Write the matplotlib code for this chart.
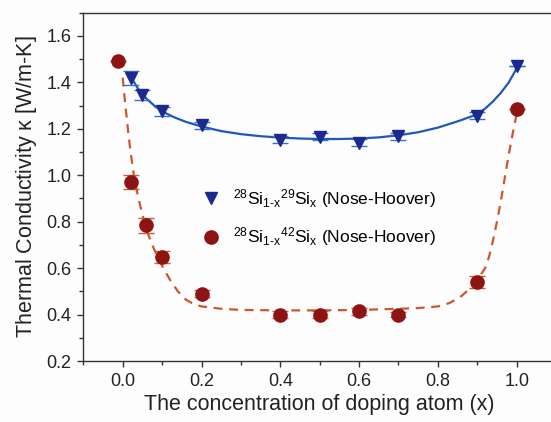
import matplotlib
matplotlib.use("Agg")
import matplotlib.pyplot as plt
from matplotlib.lines import Line2D

plt.rcParams['font.family'] = ['Liberation Sans', 'DejaVu Sans']
plt.rcParams['mathtext.fontset'] = 'custom'
plt.rcParams['mathtext.rm'] = 'Liberation Sans'
plt.rcParams['mathtext.it'] = 'Liberation Sans'

# 28Si(1-x) 29Si(x) simulations
x_si29 = [0.02, 0.05, 0.10, 0.20, 0.40, 0.50, 0.60, 0.70, 0.90, 1.00]
k_si29 = [1.42, 1.345, 1.275, 1.215, 1.153, 1.165, 1.14, 1.168, 1.257, 1.47]
err_si29 = [0.03, 0.02, 0.02, 0.015, 0.015, 0.015, 0.015, 0.015, 0.015, 0.0]

# 28Si(1-x) 42Si(x) simulations
x_si42 = [-0.012, 0.02, 0.06, 0.10, 0.20, 0.40, 0.50, 0.60, 0.70, 0.90, 1.00]
k_si42 = [1.49, 0.971, 0.784, 0.648, 0.49, 0.40, 0.40, 0.415, 0.40, 0.54, 1.284]
err_si42 = [0.0, 0.03, 0.032, 0.025, 0.015, 0.015, 0.015, 0.015, 0.012, 0.025, 0.0]

# fitted trend lines
fit29_x = [0.02, 0.04, 0.06, 0.08, 0.10, 0.13, 0.16, 0.20, 0.25, 0.30, 0.35, 0.40, 0.45,
           0.50, 0.55, 0.60, 0.65, 0.70, 0.75, 0.80, 0.85, 0.88, 0.90, 0.92, 0.94, 0.96,
           0.98, 0.99, 1.00]
fit29_y = [1.425, 1.37, 1.33, 1.30, 1.275, 1.25, 1.23, 1.21, 1.19, 1.177, 1.168, 1.162, 1.158,
           1.156, 1.156, 1.158, 1.163, 1.172, 1.185, 1.205, 1.232, 1.25, 1.262, 1.287, 1.318,
           1.355, 1.40, 1.43, 1.46]
fit42_x = [0.0, 0.005, 0.01, 0.015, 0.02, 0.025, 0.03, 0.04, 0.05, 0.06, 0.07, 0.08, 0.10,
           0.12, 0.14, 0.16, 0.18, 0.20, 0.25, 0.30, 0.40, 0.50, 0.60, 0.70, 0.75, 0.80,
           0.83, 0.86, 0.88, 0.90, 0.92, 0.93, 0.94, 0.95, 0.96, 0.97, 0.98, 0.99, 1.00]
fit42_y = [1.42, 1.33, 1.25, 1.17, 1.10, 1.04, 0.98, 0.90, 0.83, 0.77, 0.72, 0.68, 0.61,
           0.55, 0.50, 0.465, 0.445, 0.435, 0.425, 0.42, 0.418, 0.418, 0.42, 0.425, 0.428, 0.435,
           0.45, 0.48, 0.51, 0.55, 0.60, 0.65, 0.72, 0.80, 0.89, 0.99, 1.09, 1.18, 1.265]

labels = [r'$^{28}$Si$_{1\text{-}x}$$^{29}$Si$_{x}$ (Nose-Hoover)',
          r'$^{28}$Si$_{1\text{-}x}$$^{42}$Si$_{x}$ (Nose-Hoover)']

xticks = [0.0, 0.2, 0.4, 0.6, 0.8, 1.0]
yticks = [0.2, 0.4, 0.6, 0.8, 1.0, 1.2, 1.4, 1.6]

blue_mk, blue_ln, blue_err = '#1b2a8f', '#2256b8', '#3a6fd0'
red_mk, red_ln, red_err = '#8e1414', '#cf5530', '#c0603c'

fig = plt.figure(figsize=(5.51, 4.22), dpi=100)
fig.patch.set_facecolor('#fdfdfd')
ax = fig.add_axes([0.1512, 0.1445, 0.858, 0.8255])
ax.set_facecolor('#fdfdfd')

ax.plot(fit29_x, fit29_y, '-', color=blue_ln, lw=1.6, zorder=2)
ax.plot(fit42_x, fit42_y, '--', color=red_ln, lw=1.6, dashes=(4, 3), zorder=2)

ax.errorbar(x_si29, k_si29, yerr=err_si29, fmt='v', color=blue_mk, ms=9,
            ecolor=blue_err, elinewidth=1.0, capsize=6, capthick=1.0, zorder=3)
ax.errorbar(x_si42, k_si42, yerr=err_si42, fmt='o', color=red_mk, ms=9.5,
            ecolor=red_err, elinewidth=1.0, capsize=6, capthick=1.0, zorder=3)

ax.set_xlim(-0.1, 1.1)
ax.set_ylim(0.2, 1.7)
ax.set_xticks(xticks)
ax.set_xticklabels([f'{v:.1f}' for v in xticks])
ax.set_yticks(yticks)
ax.set_yticklabels([f'{v:.1f}' for v in yticks])
ax.set_xticks([-0.1, 0.1, 0.3, 0.5, 0.7, 0.9, 1.1], minor=True)
ax.set_yticks([0.3, 0.5, 0.7, 0.9, 1.1, 1.3, 1.5, 1.7], minor=True)
ax.tick_params(which='both', direction='out', labelsize=13, color='#333333',
               labelcolor='#222222', pad=4)
ax.tick_params(which='major', length=4.5, width=1)
ax.tick_params(which='minor', length=3, width=1)
ax.tick_params(axis='y', which='both', right=True, labelright=False)
for s in ax.spines.values():
    s.set_color('#333333')
    s.set_linewidth(1.0)

ax.set_xlabel('The concentration of doping atom (x)', fontsize=15.5, color='#222222', labelpad=3)
ax.set_ylabel(r'Thermal Conductivity $\kappa$ [W/m-K]', fontsize=15.5, color='#222222', labelpad=5)

handles = [Line2D([], [], ls='none', marker='v', ms=9, color=blue_mk),
           Line2D([], [], ls='none', marker='o', ms=9.5, color=red_mk)]
ax.legend(handles, labels, loc='center left', bbox_to_anchor=(0.201, 0.818),
          bbox_transform=ax.transData, frameon=False, fontsize=12.5, borderpad=0,
          borderaxespad=0, handletextpad=0.8, labelspacing=0.9, handlelength=1.0)

fig.savefig('out.png', dpi=100, facecolor=fig.get_facecolor())
